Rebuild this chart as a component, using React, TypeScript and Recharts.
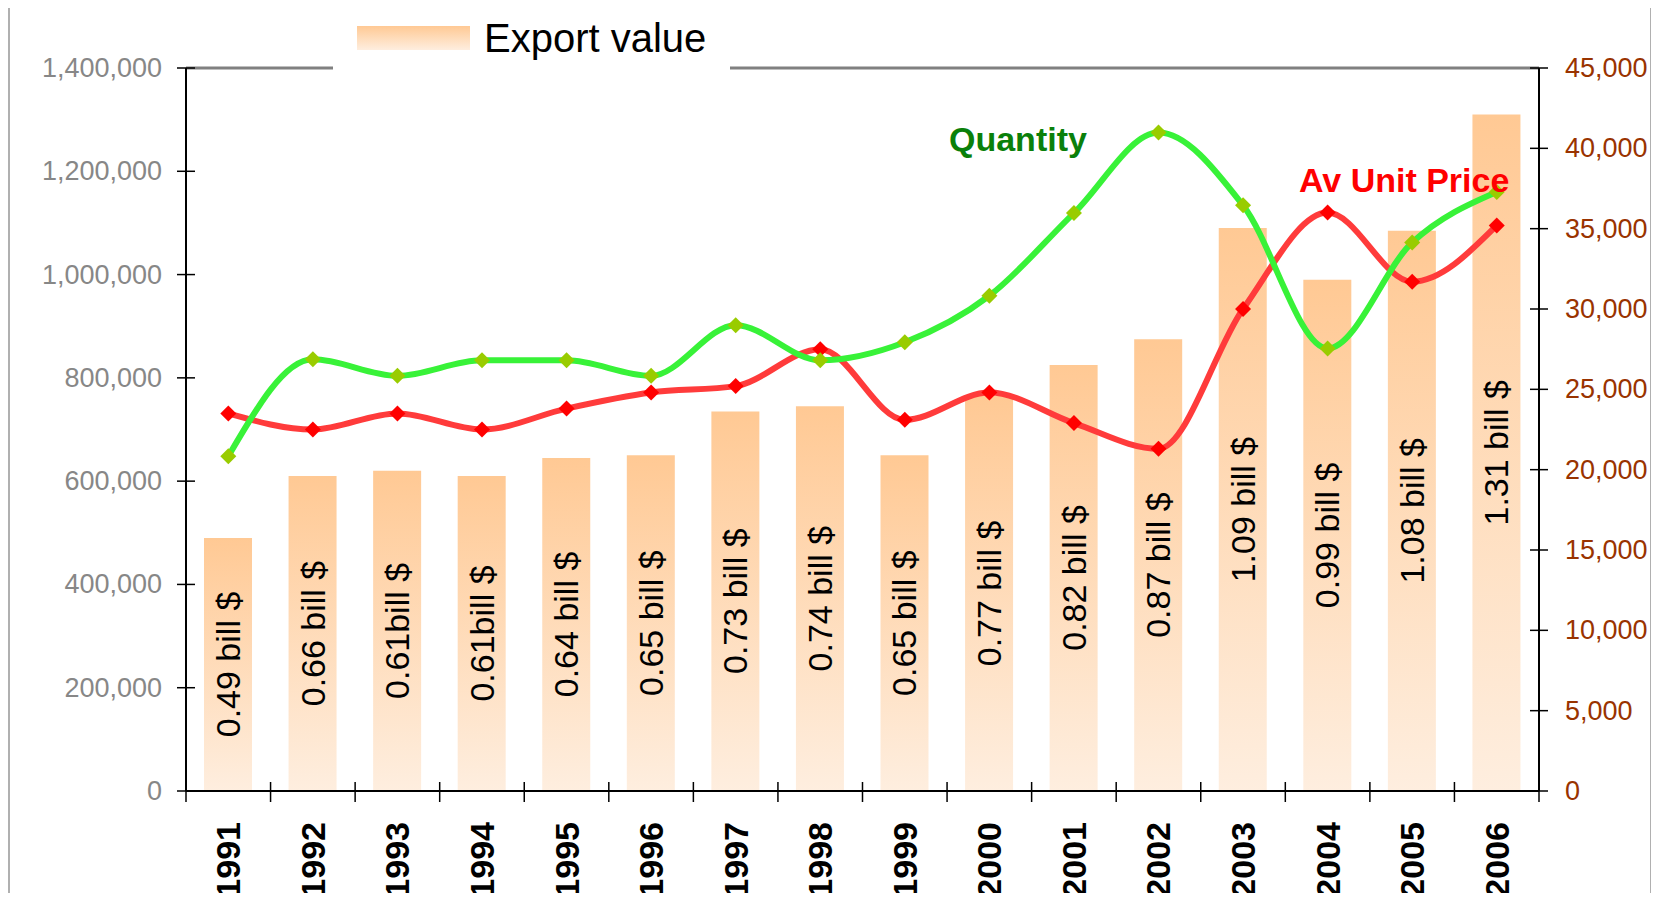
import {
  ComposedChart,
  Bar,
  Line,
  XAxis,
  YAxis,
  ReferenceLine,
  LabelList,
  Legend,
} from "recharts";

// values
const years = [
  "1991", "1992", "1993", "1994", "1995", "1996", "1997", "1998",
  "1999", "2000", "2001", "2002", "2003", "2004", "2005", "2006",
];
const exportValue = [
  490000, 610000, 620000, 610000, 645000, 650000, 735000, 745000,
  650000, 765000, 825000, 875000, 1090000, 990000, 1085000, 1310000,
];
const exportLabels = [
  "0.49 bill $", "0.66 bill $", "0.61bill $", "0.61bill $", "0.64 bill $",
  "0.65 bill $", "0.73 bill $", "0.74 bill $", "0.65 bill $", "0.77 bill $",
  "0.82 bill $", "0.87 bill $", "1.09 bill $", "0.99 bill $", "1.08 bill $",
  "1.31 bill $",
];
const quantity = [
  648000, 836000, 804000, 834000, 834000, 804000, 902000, 834000,
  869000, 959000, 1119000, 1275000, 1134000, 857000, 1062000, 1160000,
];
const avUnitPrice = [
  23500, 22500, 23500, 22500, 23800, 24800, 25200, 27500,
  23100, 24800, 22900, 21300, 30000, 36000, 31700, 35200,
];
const leftTicks = [0, 200000, 400000, 600000, 800000, 1000000, 1200000, 1400000];
const rightTicks = [0, 5000, 10000, 15000, 20000, 25000, 30000, 35000, 40000, 45000];

const data = years.map((year, i) => ({
  year,
  exportValue: exportValue[i],
  label: exportLabels[i],
  quantity: quantity[i],
  price: avUnitPrice[i],
}));

const FONT = "'Liberation Sans', Arial, sans-serif";
const W = 1659;
const H = 901;
const PLOT_W = 1353;
const HALF_BAND = PLOT_W / years.length / 2;

const fmt = (v: number) => v.toLocaleString("en-US");

const LeftTick = (props: any) => {
  const { x, y, payload } = props;
  return (
    <g>
      <line x1={x - 9} x2={x + 9} y1={y} y2={y} stroke="#000" strokeWidth={1.5} />
      <text x={x - 24} y={y} textAnchor="end" dominantBaseline="central"
        fontSize={27} fill="#878787" fontFamily={FONT}>
        {fmt(payload.value)}
      </text>
    </g>
  );
};

const RightTick = (props: any) => {
  const { x, y, payload } = props;
  return (
    <g>
      <line x1={x - 9} x2={x + 9} y1={y} y2={y} stroke="#000" strokeWidth={1.5} />
      <text x={x + 26} y={y} textAnchor="start" dominantBaseline="central"
        fontSize={27} fill="#993300" fontFamily={FONT}>
        {fmt(payload.value)}
      </text>
    </g>
  );
};

const YearTick = (props: any) => {
  const { x, y, payload, index } = props;
  const ty = y + 31;
  return (
    <g>
      <line x1={x - HALF_BAND} x2={x - HALF_BAND} y1={y - 9} y2={y + 11} stroke="#000" strokeWidth={1.5} />
      {index === years.length - 1 && (
        <line x1={x + HALF_BAND} x2={x + HALF_BAND} y1={y - 9} y2={y + 11} stroke="#000" strokeWidth={1.5} />
      )}
      <text x={x} y={ty} transform={`rotate(-90, ${x}, ${ty})`} textAnchor="end"
        dominantBaseline="central" fontSize={34} fontWeight="bold" fill="#000" fontFamily={FONT}>
        {payload.value}
      </text>
    </g>
  );
};

const BarLabel = (props: any) => {
  const { x, y, width, height, value } = props;
  const cx = x + width / 2;
  const cy = y + height / 2;
  return (
    <text x={cx} y={cy} transform={`rotate(-90, ${cx}, ${cy})`} textAnchor="middle"
      dominantBaseline="central" fontSize={34} fill="#000" fontFamily={FONT}>
      {value}
    </text>
  );
};

const diamond = (fill: string) => (props: any) => {
  const { cx, cy, index } = props;
  const r = 8;
  return (
    <polygon key={`d-${fill}-${index}`}
      points={`${cx},${cy - r} ${cx + r},${cy} ${cx},${cy + r} ${cx - r},${cy}`}
      fill={fill} />
  );
};

const renderLegend = () => (
  <div style={{ width: 397, height: 64, background: "#fff", position: "relative" }}>
    <svg width={397} height={64} style={{ position: "absolute", left: 0, top: 0 }}>
      <defs>
        <linearGradient id="legendFill" x1="0" y1="0" x2="0" y2="1">
          <stop offset="0%" stopColor="#FFC994" />
          <stop offset="100%" stopColor="#FEEEDF" />
        </linearGradient>
      </defs>
      <rect x={24} y={18} width={113} height={24} fill="url(#legendFill)" />
      <text x={151} y={44} fontSize={40} fill="#000" fontFamily={FONT}>Export value</text>
    </svg>
  </div>
);

export default function App() {
  return (
    <div style={{ position: "relative", width: W, height: H, margin: -8, background: "#fff", overflow: "hidden", fontFamily: FONT }}>
      <div style={{ position: "absolute", left: 8, top: 6, width: 1640, height: 1000, border: "2px solid #b0b0b0" }} />
      <ComposedChart
        width={W}
        height={H}
        data={data}
        margin={{ top: 68, right: 10, bottom: 10, left: 16 }}
        barCategoryGap={0}
        style={{ position: "absolute", left: 0, top: 0 }}
      >
        <defs>
          <linearGradient id="barFill" x1="0" y1="0" x2="0" y2="1">
            <stop offset="0%" stopColor="#FFC994" />
            <stop offset="100%" stopColor="#FEEEDF" />
          </linearGradient>
        </defs>
        <XAxis dataKey="year" interval={0} height={100} tickSize={0} tickMargin={0}
          tick={YearTick} axisLine={{ stroke: "#000", strokeWidth: 2 }} />
        <YAxis yAxisId="left" orientation="left" width={170} domain={[0, 1400000]}
          ticks={leftTicks} tickSize={0} tickMargin={0} tick={LeftTick}
          axisLine={{ stroke: "#000", strokeWidth: 2 }} />
        <YAxis yAxisId="right" orientation="right" width={110} domain={[0, 45000]}
          ticks={rightTicks} tickSize={0} tickMargin={0} tick={RightTick}
          axisLine={{ stroke: "#000", strokeWidth: 2 }} />
        <ReferenceLine yAxisId="left" y={1400000} stroke="#808080" strokeWidth={3} />
        <Legend verticalAlign="middle" layout="horizontal" content={renderLegend}
          wrapperStyle={{ top: 8, left: 333, width: 397, height: 64 }} />
        <Bar yAxisId="left" dataKey="exportValue" name="Export value" barSize={48}
          fill="url(#barFill)" isAnimationActive={false}>
          <LabelList dataKey="label" content={BarLabel} />
        </Bar>
        <Line yAxisId="right" type="monotone" dataKey="price" stroke="#FF3B3B" strokeWidth={6}
          dot={diamond("#FF0000")} activeDot={false} isAnimationActive={false} legendType="none" />
        <Line yAxisId="left" type="monotone" dataKey="quantity" stroke="#38F238" strokeWidth={6}
          dot={diamond("#99CC00")} activeDot={false} isAnimationActive={false} legendType="none" />
      </ComposedChart>
      <svg width={W} height={H} style={{ position: "absolute", left: 0, top: 0, pointerEvents: "none" }}>
        <text x={949} y={151} fontSize={34} fontWeight="bold" fill="#0A800A" fontFamily={FONT}>Quantity</text>
        <text x={1299} y={192} fontSize={34} fontWeight="bold" fill="#FF0000" fontFamily={FONT}>Av Unit Price</text>
      </svg>
    </div>
  );
}
